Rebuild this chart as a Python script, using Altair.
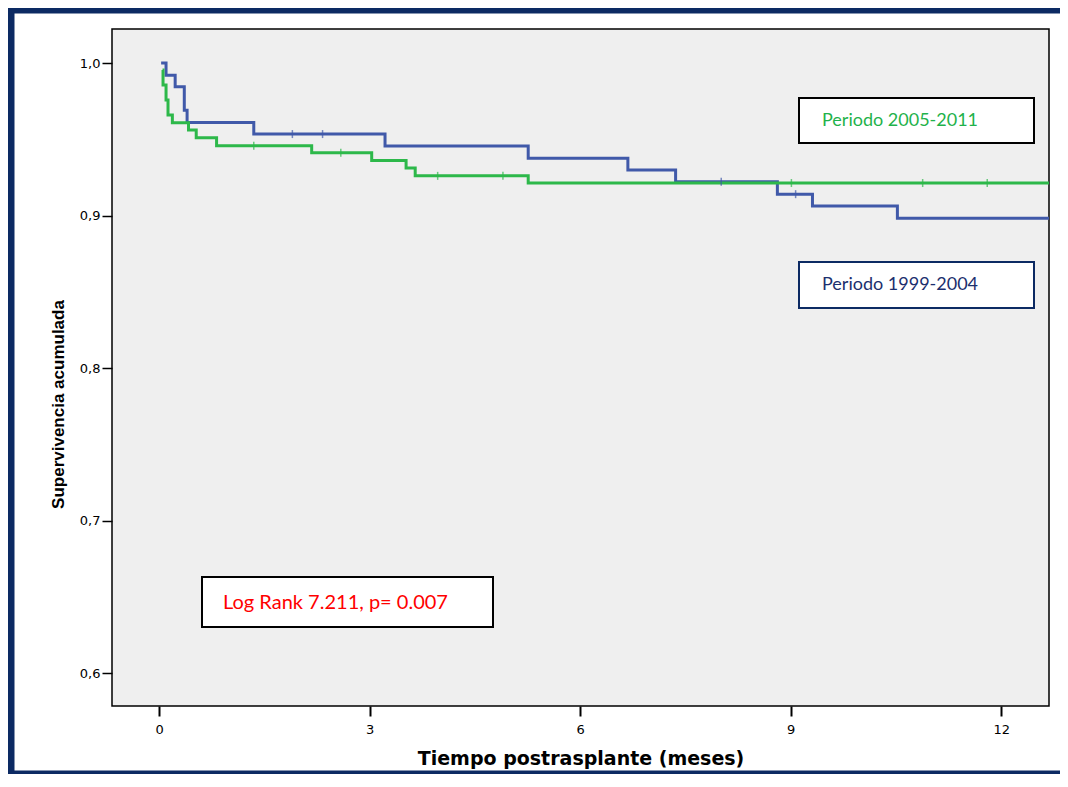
import altair as alt
import pandas as pd

# ---- data ----
# Periodo 1999-2004 (blue): step times (months) and cumulative survival
blue_time = [0.03, 0.10, 0.23, 0.36, 0.40, 1.35, 3.22, 5.26, 6.68, 7.36, 8.81, 9.31, 10.52, 12.68]
blue_surv = [1.0, 0.992, 0.9845, 0.969, 0.961, 0.9534, 0.9456, 0.9375, 0.9298, 0.9221, 0.914, 0.9062, 0.8982, 0.8982]
blue_cens_time = [1.90, 2.33, 8.01, 9.07]
blue_cens_surv = [0.9534, 0.9534, 0.9221, 0.914]

# Periodo 2005-2011 (green)
green_time = [0.05, 0.057, 0.10, 0.128, 0.19, 0.42, 0.53, 0.82, 2.175, 3.03, 3.52, 3.65, 5.26, 12.68]
green_surv = [0.9954, 0.9856, 0.9757, 0.9659, 0.9609, 0.956, 0.951, 0.9458, 0.9412, 0.936, 0.9311, 0.926, 0.9213, 0.9213]
green_cens_time = [1.35, 2.59, 3.97, 4.90, 9.01, 10.88, 11.80]
green_cens_surv = [0.9458, 0.9412, 0.926, 0.926, 0.9213, 0.9213, 0.9213]

groups = ["Periodo 1999-2004", "Periodo 2005-2011"]
x_ticks = [0, 3, 6, 9, 12]
y_ticks = [0.6, 0.7, 0.8, 0.9, 1.0]
x_title = "Tiempo postrasplante (meses)"
y_title = "Supervivencia acumulada"
logrank_text = "Log Rank 7.211, p= 0.007"

BLUE = "#4059a9"
GREEN = "#2db84a"
NAVY = "#0c2a63"

lines_df = pd.concat([
    pd.DataFrame({"t": blue_time, "s": blue_surv, "g": groups[0]}),
    pd.DataFrame({"t": green_time, "s": green_surv, "g": groups[1]}),
])
cens_df = pd.concat([
    pd.DataFrame({"t": blue_cens_time, "s": blue_cens_surv, "g": groups[0]}),
    pd.DataFrame({"t": green_cens_time, "s": green_cens_surv, "g": groups[1]}),
])

xscale = alt.Scale(domain=[-0.67, 12.68], nice=False, zero=False)
yscale = alt.Scale(domain=[0.5784, 1.0223], nice=False, zero=False)
cscale = alt.Scale(domain=groups, range=[BLUE, GREEN])

xaxis = alt.Axis(values=x_ticks, format="d", title=x_title, domain=False, grid=False,
                 tickSize=10, tickWidth=2, tickColor="black",
                 labelFont="DejaVu Sans", labelFontSize=13, labelColor="black", labelPadding=7,
                 titleFont="DejaVu Sans", titleFontSize=19, titleFontWeight="bold",
                 titleColor="black", titleY=52, titleBaseline="middle")
yaxis = alt.Axis(values=y_ticks, title=y_title, domain=False, grid=False,
                 tickSize=10, tickWidth=1.5, tickColor="black",
                 labelExpr="replace(format(datum.value, '.1f'), '.', ',')",
                 labelFont="DejaVu Sans", labelFontSize=13, labelColor="black", labelPadding=2,
                 titleFont="Liberation Sans Narrow, Liberation Sans", titleFontSize=17,
                 titleFontWeight="bold", titleColor="black", titlePadding=12, titleY=375)

base_lines = alt.Chart(lines_df)
blue_line = base_lines.transform_filter(alt.datum.g == groups[0]).mark_line(
    interpolate="step-after", strokeWidth=3, clip=True).encode(
    x=alt.X("t:Q", scale=xscale, axis=xaxis),
    y=alt.Y("s:Q", scale=yscale, axis=yaxis),
    color=alt.Color("g:N", scale=cscale, legend=None),
)
green_line = base_lines.transform_filter(alt.datum.g == groups[1]).mark_line(
    interpolate="step-after", strokeWidth=3, clip=True).encode(
    x=alt.X("t:Q", scale=xscale),
    y=alt.Y("s:Q", scale=yscale),
    color=alt.Color("g:N", scale=cscale, legend=None),
)
cens = alt.Chart(cens_df).mark_tick(orient="vertical", size=8, thickness=1.5).encode(
    x=alt.X("t:Q", scale=xscale),
    y=alt.Y("s:Q", scale=yscale),
    color=alt.Color("g:N", scale=cscale, legend=None),
)

one = pd.DataFrame({"a": [0]})
labels_df = pd.DataFrame({"txt": [groups[1], groups[0], logrank_text]})

def box(x1, x2, y1, y2, stroke):
    return alt.Chart(one).mark_rect(fill="white", stroke=stroke, strokeWidth=2).encode(
        x=alt.value(x1), x2=alt.value(x2), y=alt.value(y1), y2=alt.value(y2))

def label(i, x, y, color, size):
    return alt.Chart(labels_df).transform_filter(
        alt.datum.txt == labels_df["txt"][i]).mark_text(
        align="left", baseline="middle", font="Lato", fontSize=size, color=color).encode(
        x=alt.value(x), y=alt.value(y), text="txt:N")

frame = alt.Chart(one).mark_rect(filled=False, stroke=NAVY, strokeWidth=7).encode(
    x=alt.value(-101), x2=alt.value(1000), y=alt.value(-19), y2=alt.value(745))

chart = alt.layer(
    frame,
    blue_line, green_line, cens,
    box(687, 922, 69, 114, "black"), label(0, 710, 92, "#1fb24b", 18),
    box(687, 922, 233, 279, NAVY), label(1, 710, 256, "#1c2f6e", 18),
    box(90, 381, 548, 598, "black"), label(2, 111, 574, "#ff0000", 20),
).properties(
    width=937, height=677,
    autosize=alt.AutoSizeParams(type="none"),
    padding={"left": 104, "top": 21, "right": 11, "bottom": 68},
    background="white",
).configure_view(fill="#efefef", stroke="black", strokeWidth=1.5)

chart.save("out.html", embed_options={"renderer": "svg", "actions": False})
